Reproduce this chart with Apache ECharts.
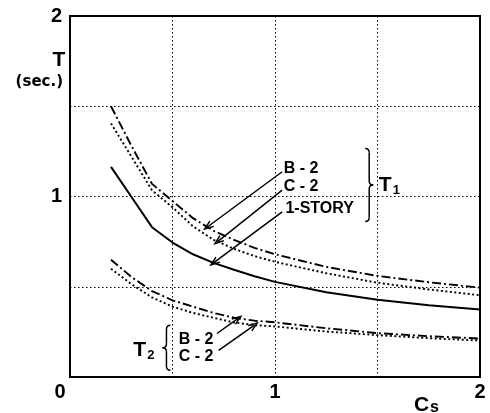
<!DOCTYPE html>
<html>
<head>
<meta charset="utf-8">
<script src="https://cdn.jsdelivr.net/npm/echarts@6/dist/echarts.min.js"></script>
<style>
  html, body { margin: 0; padding: 0; background: #fff; }
  #chart { width: 490px; height: 413px; }
</style>
</head>
<body>
<div id="chart"></div>
<script>
// Seismic coefficient Cs (x) against natural period T in seconds (y)
const cs = [0.2, 0.3, 0.4, 0.5, 0.6, 0.7, 0.8, 0.9, 1.0, 1.25, 1.5, 1.75, 2.0];

// First-mode period T1
const t1OneStory = [1.164, 0.997, 0.83, 0.745, 0.68, 0.632, 0.594, 0.558, 0.527, 0.47, 0.428, 0.398, 0.374];
const t1B2       = [1.50, 1.28, 1.07, 0.975, 0.88, 0.81, 0.76, 0.715, 0.68, 0.61, 0.56, 0.525, 0.495];
const t1C2       = [1.405, 1.22, 1.035, 0.94, 0.835, 0.76, 0.71, 0.67, 0.638, 0.575, 0.522, 0.485, 0.453];

// Second-mode period T2
const t2B2 = [0.65, 0.554, 0.476, 0.425, 0.39, 0.355, 0.328, 0.312, 0.303, 0.27, 0.243, 0.226, 0.213];
const t2C2 = [0.60, 0.514, 0.441, 0.39, 0.355, 0.328, 0.302, 0.288, 0.28, 0.252, 0.232, 0.215, 0.202];

// Labelled tick values
const xTickLabels = [1, 2];
const yTickLabels = [1, 2];

const FONT = "'Liberation Sans', Arial, Helvetica, sans-serif";
const INK = '#000';

function pairs(ys) { return cs.map((x, i) => [x, ys[i]]); }
function valueAt(ys, x) {
  for (let i = 0; i < cs.length - 1; i++) {
    if (x >= cs[i] && x <= cs[i + 1]) {
      const f = (x - cs[i]) / (cs[i + 1] - cs[i]);
      return ys[i] + f * (ys[i + 1] - ys[i]);
    }
  }
  return ys[ys.length - 1];
}

const solidStyle   = { color: INK, width: 2, type: 'solid' };
const dashDotStyle = { color: INK, width: 1.9, type: [9, 3, 2, 3] };
const dottedStyle  = { color: INK, width: 1.9, type: [2, 2.5] };

// Leader arrows: tail in data space, tip placed on the curve it names
const leaders = [
  { tail: [1.035, 1.137], curve: t1B2, at: 0.67 },
  { tail: [1.035, 1.035], curve: t1C2, at: 0.72 },
  { tail: [1.035, 0.915], curve: t1OneStory, at: 0.70 },
  { tail: [0.717, 0.241], curve: t2B2, at: 0.82 },
  { tail: [0.725, 0.148], curve: t2C2, at: 0.90 }
];
const chevron = 'path://M5,0 L10,10 L8,10 L5,3.8 L2,10 L0,10 Z';

const lineSeries = (name, ys, style) => ({
  name, type: 'line', data: pairs(ys), symbol: 'none', smooth: false,
  lineStyle: style, silent: true, animation: false, z: 3
});

const chart = echarts.init(document.getElementById('chart'), null, { renderer: 'canvas' });

chart.setOption({
  backgroundColor: '#fff',
  animation: false,
  grid: { left: 70, right: 10, top: 16, bottom: 36, show: true, borderColor: INK, borderWidth: 2, containLabel: false },
  xAxis: {
    type: 'value', min: 0, max: 2, interval: 0.5,
    axisLine: { show: false }, axisTick: { show: false },
    splitLine: { show: true, lineStyle: { color: INK, width: 1, type: [1.5, 2.5] } },
    axisLabel: {
      margin: 5, color: INK, fontFamily: FONT, fontWeight: 'bold', fontSize: 20,
      formatter: v => xTickLabels.indexOf(v) >= 0 ? String(v) : ''
    }
  },
  yAxis: {
    type: 'value', min: 0, max: 2, interval: 0.5,
    axisLine: { show: false }, axisTick: { show: false },
    splitLine: { show: true, lineStyle: { color: INK, width: 1, type: [1.5, 2.5] } },
    axisLabel: {
      margin: 8, color: INK, fontFamily: FONT, fontWeight: 'bold', fontSize: 20,
      formatter: v => yTickLabels.indexOf(v) >= 0 ? String(v) : ''
    }
  },
  series: [
    lineSeries('T1 B-2', t1B2, dashDotStyle),
    lineSeries('T1 C-2', t1C2, dottedStyle),
    Object.assign(lineSeries('T1 1-STORY', t1OneStory, solidStyle), {
      markLine: {
        silent: true, animation: false,
        symbol: ['none', chevron], symbolSize: [8, 11],
        label: { show: false },
        lineStyle: { color: INK, width: 1.5, type: 'solid' },
        data: leaders.map(l => [{ coord: l.tail }, { coord: [l.at, valueAt(l.curve, l.at)] }])
      }
    }),
    lineSeries('T2 B-2', t2B2, dashDotStyle),
    lineSeries('T2 C-2', t2C2, dottedStyle)
  ]
});

// Annotations placed in data space
function px(x, y) { return chart.convertToPixel({ gridIndex: 0 }, [x, y]); }

function text(p, str, size, opts) {
  return {
    type: 'text', x: p[0], y: p[1], silent: true, z: 10,
    style: Object.assign({
      text: str, fill: INK, font: 'bold ' + size + 'px ' + FONT,
      align: 'left', verticalAlign: 'middle'
    }, opts || {})
  };
}

// Curly brace built from quadratic curves and straight runs; dir = 1 draws "}", dir = -1 draws "{"
function brace(xData, yTop, yBottom, dir) {
  const a = px(xData, yTop), b = px(xData, yBottom);
  const x = a[0], y1 = a[1], y2 = b[1], ym = (y1 + y2) / 2, d = 4 * dir, r = 4;
  const stroke = { stroke: INK, lineWidth: 1.5, fill: null };
  const curve = (x1, yA, cx, cy, x2, yB) => ({
    type: 'bezierCurve', silent: true, z: 10,
    shape: { x1: x1, y1: yA, cpx1: cx, cpy1: cy, x2: x2, y2: yB },
    style: stroke
  });
  const seg = (x1, yA, x2, yB) => ({
    type: 'line', silent: true, z: 10,
    shape: { x1: x1, y1: yA, x2: x2, y2: yB },
    style: stroke
  });
  return {
    type: 'group', silent: true,
    children: [
      curve(x, y1, x + d, y1, x + d, y1 + r),
      seg(x + d, y1 + r, x + d, ym - r),
      curve(x + d, ym - r, x + d, ym, x + 2 * d, ym),
      curve(x + 2 * d, ym, x + d, ym, x + d, ym + r),
      seg(x + d, ym + r, x + d, y2 - r),
      curve(x + d, y2 - r, x + d, y2, x, y2)
    ]
  };
}

function subscripted(p, main, sub) {
  return [text(p, main, 21), text([p[0] + 14, p[1] + 5], sub, 13)];
}

const origin = px(0, 0);
const corner = px(0, 2);
const xEnd = px(2, 0);

chart.setOption({
  graphic: [
    // origin label
    text([origin[0] - 10, origin[1] + 15], '0', 20, { align: 'center' }),
    // y axis title
    text([corner[0] - 11, corner[1] + 44], 'T', 21, { align: 'center' }),
    text([corner[0] - 7, corner[1] + 66], '(sec.)', 15, { align: 'right', font: "bold 15px 'DejaVu Sans', sans-serif" }),
    // x axis title
    text([xEnd[0] - 66, xEnd[1] + 28], 'C', 21),
    text([xEnd[0] - 50, xEnd[1] + 31], 's', 16),

    // T1 group
    text(px(1.043, 1.152), 'B - 2', 16),
    text(px(1.043, 1.057), 'C - 2', 16),
    text(px(1.051, 0.935), '1-STORY', 16),
    brace(1.44, 1.266, 0.862, 1)
  ]
  .concat(subscripted(px(1.506, 1.063), 'T', '1'))
  // T2 group
  .concat(subscripted(px(0.308, 0.148), 'T', '2'))
  .concat([
    brace(0.49, 0.287, 0.037, -1),
    text(px(0.53, 0.207), 'B - 2', 16),
    text(px(0.53, 0.111), 'C - 2', 16)
  ])
});
</script>
</body>
</html>
